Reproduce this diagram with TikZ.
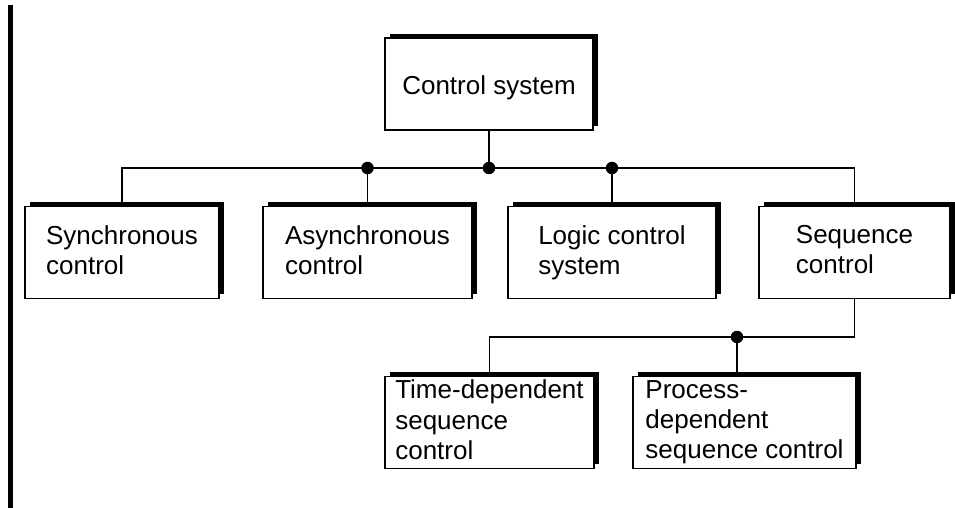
\documentclass[tikz,border=0pt]{standalone}
\usepackage{fontspec}
\setmainfont{Liberation Sans}
\usetikzlibrary{shadows}

\begin{document}
\begin{tikzpicture}[line width=0.75pt,
  cbox/.style={draw,fill=white,align=left,inner sep=0pt,minimum height=1.84cm,
    font=\fontsize{14.8}{17.2}\selectfont,
    execute at begin node={\rule{0pt}{14.8pt}},
    execute at end node={\rule[-3.1pt]{0pt}{3.1pt}},
    general shadow={fill=black,shadow xshift=0.1cm,shadow yshift=0.08cm}}]
\useasboundingbox (0,0) rectangle (19.1,10.16);
\fill (0.16,0) rectangle (0.25,10.06);
% boxes
\node[cbox,minimum width=4.16cm] (ctrl) at (9.78,8.48) {Control system};
\node[cbox,minimum width=3.88cm] (sync) at (2.44,5.11) {Synchronous\\control};
\node[cbox,minimum width=4.18cm] (async) at (7.35,5.11) {Asynchronous\\control};
\node[cbox,minimum width=4.16cm] (logic) at (12.24,5.11) {Logic control\\system};
\node[cbox,minimum width=3.82cm] (seq) at (17.09,5.11) {Sequence\\control};
\node[cbox,minimum width=4.18cm] (time) at (9.79,1.71) {Time-dependent\\sequence\\control};
\node[cbox,minimum width=4.46cm] (proc) at (14.89,1.71) {Process-\\dependent\\sequence control};
% connectors
\coordinate (bus) at (0,6.80);
\coordinate (bus2) at (0,3.42);
\coordinate (pj) at (14.74,3.42);
\draw (ctrl.south) -- (ctrl.south |- bus);
\draw (sync.north) -- (sync.north |- bus) -- (seq.north |- bus) -- (seq.north);
\draw (async.north) -- (async.north |- bus);
\draw (logic.north) -- (logic.north |- bus);
\fill (async.north |- bus) circle (0.125);
\fill (ctrl.south |- bus) circle (0.125);
\fill (logic.north |- bus) circle (0.125);
\draw (seq.south) -- (seq.south |- bus2) -- (time.north |- bus2) -- (time.north);
\draw (pj) -- (pj |- proc.north);
\fill (pj) circle (0.125);
\end{tikzpicture}
\end{document}
